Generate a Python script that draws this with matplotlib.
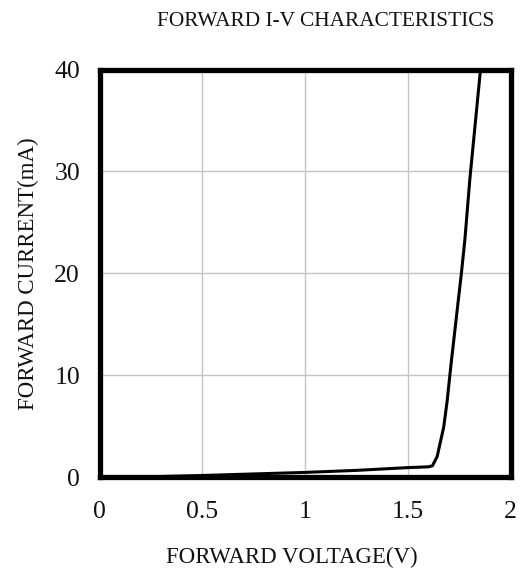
import matplotlib
matplotlib.use("Agg")
import matplotlib.pyplot as plt

voltage = [0.30, 0.50, 0.75, 1.00, 1.25, 1.50, 1.60, 1.62, 1.643, 1.675, 1.692, 1.705, 1.713, 1.761, 1.778, 1.802, 1.854]
current = [0.05, 0.15, 0.30, 0.45, 0.65, 0.92, 1.00, 1.10, 2.0, 4.9, 7.5, 10.0, 11.5, 20.0, 23.3, 29.2, 40.0]

x_ticks = [0, 0.5, 1, 1.5, 2]
x_tick_labels = ["0", "0.5", "1", "1.5", "2"]
y_ticks = [0, 10, 20, 30, 40]
y_tick_labels = ["0", "10", "20", "30", "40"]

plt.rcParams['font.family'] = ['Liberation Serif', 'DejaVu Serif']

W, H = 524, 573
L, R, T, B = 99.5, 510.5, 69.5, 477
fig = plt.figure(figsize=(W/100, H/100), dpi=100)
ax = fig.add_axes([L/W, 1-B/H, (R-L)/W, (B-T)/H])

ax.plot(voltage, current, color='black', lw=2.2, solid_joinstyle='round',
        solid_capstyle='round', zorder=3)

ax.set_xlim(0, 2)
ax.set_ylim(0, 40)
ax.set_xticks(x_ticks)
ax.set_xticklabels(x_tick_labels)
ax.set_yticks(y_ticks)
ax.set_yticklabels(y_tick_labels)
ax.tick_params(length=0, labelsize=18.5, labelcolor='#111111')
ax.tick_params(axis='x', pad=17)
ax.tick_params(axis='y', pad=14)
ax.grid(True, color='#c4c4c4', lw=1.0)
ax.set_axisbelow(True)
for s in ax.spines.values():
    s.set_linewidth(3.8)
    s.set_color('black')
    s.set_zorder(4)

ax.set_xlabel("FORWARD VOLTAGE(V)", fontsize=16.5, va='center', color='#111111')
ax.xaxis.set_label_coords((292-L)/(R-L), -(557-B)/(B-T))
ax.set_ylabel("FORWARD CURRENT(mA)", fontsize=16.5, va='center', color='#111111')
ax.yaxis.set_label_coords(-(L-28)/(R-L), 0.5)
fig.text(326/W, 1-21/H, "FORWARD I-V CHARACTERISTICS", fontsize=15.4,
         ha='center', va='center', color='#111111')

fig.savefig("out.png", dpi=100)
